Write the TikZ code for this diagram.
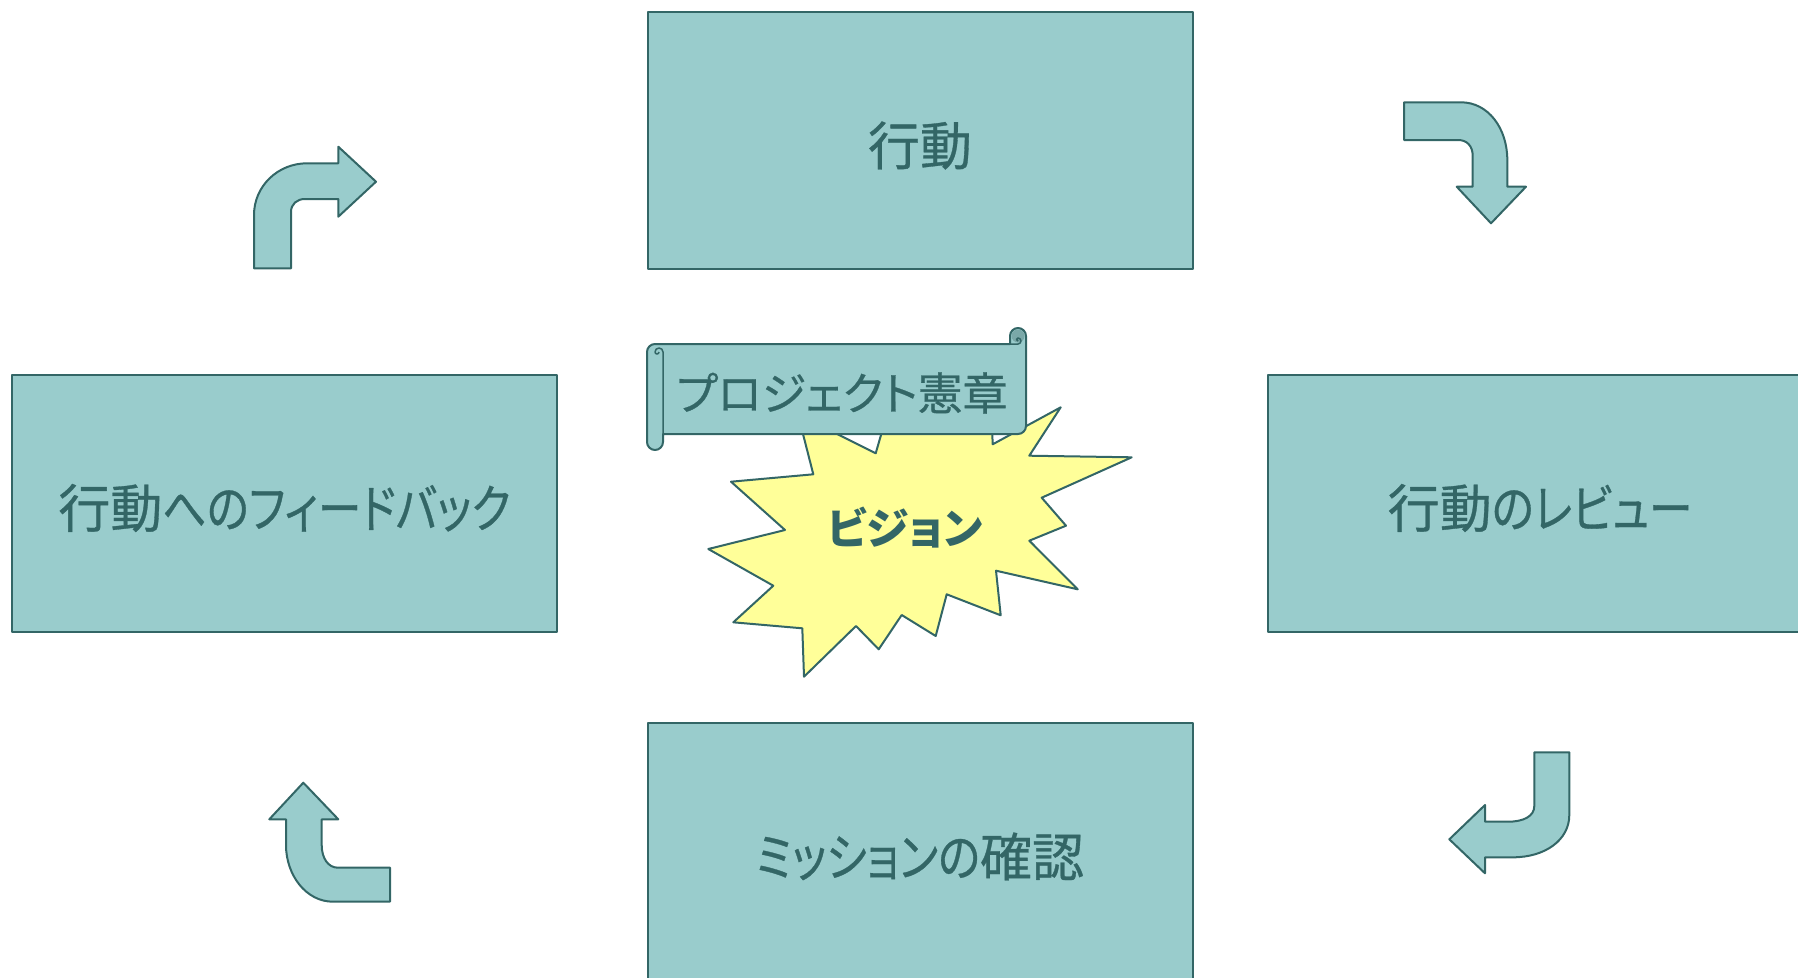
\documentclass[tikz,border=0pt]{standalone}
\usepackage{fontspec}
\setmainfont{Noto Sans CJK JP}[RawFeature={+palt}]
\newfontfamily\jpm{Noto Sans CJK JP}[RawFeature={+palt},FakeBold=0.6]
\newfontfamily\jpk{Noto Sans CJK JP}[RawFeature={+palt},FakeBold=0.6,FakeStretch=0.84]
\newcommand\kn[1]{{\jpk #1}}
\newcommand\dn[1]{\raisebox{-5pt}[\height][\depth]{#1}}
\definecolor{boxfill}{HTML}{99CCCC}
\definecolor{edgecol}{HTML}{336666}
\definecolor{starfill}{HTML}{FFFF99}
\definecolor{curlfill}{HTML}{7AA8A8}
\begin{document}
\begin{tikzpicture}[x=1pt,y=-1pt,line join=round,
  panel/.style={draw=edgecol,fill=boxfill,line width=2pt,minimum width=545pt,minimum height=257pt,inner sep=0pt,text=edgecol,font=\fontsize{52}{60}\jpm},
  bentarrow/.style={draw=edgecol,fill=boxfill,line width=2pt},
  burst/.style={draw=edgecol,fill=starfill,line width=2pt},
  scrollshape/.style={draw=edgecol,fill=boxfill,line width=2pt},
  smalltext/.style={text=edgecol,inner sep=0pt,font=\fontsize{45}{54}\jpm}]
\useasboundingbox (0,0) rectangle (1798,977);
\clip (0,0) rectangle (1798,977);

% panels
\node[panel] (act) at (920,140.5) {\dn{行動}};
\node[panel] (feedback) at (284.5,503) {\dn{行動\kn{へのフィードバック}}};
\node[panel] (review) at (1540,503) {\dn{行動\kn{のレビュー}}};
\node[panel] (mission) at (920,851.5) {\dn{\kn{ミッションの}確認}};

% bent arrows
\draw[bentarrow] (254,268.3) -- (254,215) .. controls (254,186) and (278,163.3) .. (307,163.3)
  -- (338.3,163.3) -- (338.3,146.7) -- (376,181.7) -- (338.3,216.7) -- (338.3,199)
  -- (305,199) .. controls (297,199) and (291,204) .. (291,212) -- (291,268.3) -- cycle;
\draw[bentarrow] (1404,102.3) -- (1461,102.3) .. controls (1488,102.3) and (1507.3,128) .. (1507.3,160)
  -- (1507.3,186.7) -- (1526,186.7) -- (1491,223.3) -- (1456.7,186.7) -- (1472.7,186.7)
  -- (1472.7,156) .. controls (1472.7,146) and (1467,140) .. (1458,140) -- (1404,140) -- cycle;
\draw[bentarrow] (1534.3,752.3) -- (1569.3,752.3) -- (1569.3,815) .. controls (1569.3,840) and (1545,857.3) .. (1513,857.3)
  -- (1485,857.3) -- (1485,873.3) -- (1449.3,839.3) -- (1485,805) -- (1485,821.7)
  -- (1508,821.7) .. controls (1524,821.7) and (1534.3,816) .. (1534.3,806) -- cycle;
\draw[bentarrow] (303.3,782.7) -- (338.3,819.3) -- (321.7,819.3) -- (321.7,845)
  .. controls (321.7,858) and (328,867.7) .. (338,867.7) -- (390,867.7) -- (390,901.7)
  -- (333,901.7) .. controls (306,901.7) and (286,875) .. (286,845) -- (286,819.3) -- (269.3,819.3) -- cycle;

% explosion
\draw[burst] (1060.7,407.3) -- (1029.3,455.7) -- (1131.7,457.3) -- (1041.7,497.7) -- (1066,525.7)
  -- (1029.3,540.7) -- (1077.7,589.3) -- (996,570.7) -- (1000.7,615.3) -- (946.7,594.3)
  -- (935.7,636) -- (901.7,615) -- (878.7,649.3) -- (856,626) -- (804,676.7) -- (802.3,628.3)
  -- (733.3,622.3) -- (773.3,585.7) -- (708.3,549) -- (785,530) -- (731,481.7) -- (813.3,474.3)
  -- (798,414.5) -- (875.7,453.3) -- (894,390) -- (935,420) -- (990,380) -- (992.7,444.3) -- cycle;
\node[smalltext,font=\fontsize{43}{52}\selectfont\bfseries] (vision) at (905,528) {ビジョン};

% scroll
\draw[scrollshape] (647,442) -- (647,352) arc[start angle=180,end angle=90,radius=8pt]
  -- (1010,344) -- (1010,336) arc[start angle=180,end angle=0,radius=8pt]
  -- (1026,426) arc[start angle=0,end angle=-90,radius=8pt]
  -- (663,434) -- (663,442) arc[start angle=0,end angle=-180,radius=8pt] -- cycle;
\draw[edgecol,line width=1.5pt] (663,434) -- (663,352) arc[start angle=0,end angle=180,radius=4pt]
  arc[start angle=180,end angle=360,radius=2pt];
\fill[curlfill] (1018,336) circle[radius=6.5pt];
\draw[edgecol,line width=1.5pt] (1010,344) -- (1018,344) arc[start angle=-90,end angle=90,radius=3pt]
  arc[start angle=90,end angle=270,radius=1.5pt];
\node[smalltext] (charter) at (842,393) {プロジェクト憲章};
\end{tikzpicture}
\end{document}
